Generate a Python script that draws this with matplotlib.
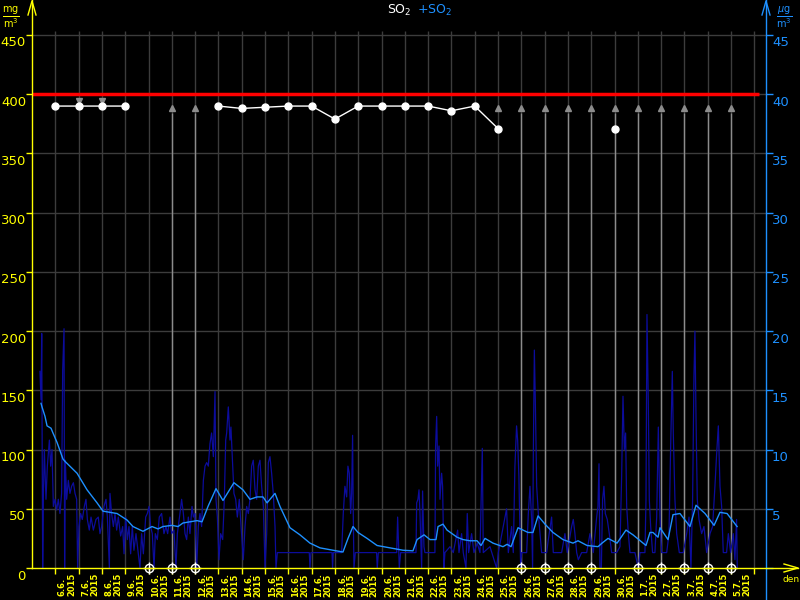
import numpy as np
import matplotlib
matplotlib.use('Agg')
import matplotlib.pyplot as plt
from matplotlib.lines import Line2D
from matplotlib.transforms import offset_copy

YEL = '#ffff00'
BLUE = '#1e90ff'
NAVY = '#0c0c9c'
GRID = '#3c3c3c'
LIGHT = '#8c8c8c'

# date labels, one per day (centred in the day)
day_labels = ['6.6.', '7.6.', '8.6.', '9.6.', '10.6.', '11.6.', '12.6.', '13.6.',
              '14.6.', '15.6.', '16.6.', '17.6.', '18.6.', '19.6.', '20.6.', '21.6.',
              '22.6.', '23.6.', '24.6.', '25.6.', '26.6.', '27.6.', '28.6.', '29.6.',
              '30.6.', '1.7.', '2.7.', '3.7.', '4.7.', '5.7.']
year = '2015'

# daily values (left axis, mg/m3), index = day boundary 1..30
daily_day = list(range(1, 31))
daily_val = [390, 390, 390, 390, np.nan, np.nan, np.nan, 390, 388, 389,
             390, 390, 379, 390, 390, 390, 390, 386, 390, 371,
             np.nan, np.nan, np.nan, np.nan, 371, np.nan, np.nan, np.nan, np.nan, np.nan]
limit = 400
missing_days = [5, 6, 7, 21, 22, 23, 24, 26, 27, 28, 29, 30]
flag_days = [6, 7, 20, 21, 22, 23, 24, 25, 26, 27, 28, 29, 30]
flag_lines = [6, 7, 21, 22, 23, 24, 25, 26, 27, 28, 29, 30]

# raw series (right axis, ug/m3), time in hours from start
raw_h = [8.2, 9.3, 10.0, 11.0, 11.7, 12.7, 14.4, 15.8, 17.9, 19.2, 20.6, 22.0, 23.7, 25.4,
         27.1, 28.8, 30.5, 31.6, 33.0, 33.6, 34.3, 35.7, 37.4, 39.1, 40.8, 42.6, 44.3, 46.0,
         47.0, 48.4, 50.1, 51.8, 53.9, 55.6, 57.0, 59.0, 60.8, 63.2, 65.9, 68.3, 70.0, 71.7,
         74.1, 76.2, 77.6, 79.7, 80.3, 82.0, 83.8, 85.5, 87.2, 88.9, 91.3, 93.4, 94.8, 96.5,
         98.2, 99.9, 101.6, 103.3, 105.0, 107.1, 109.5, 111.2, 112.9, 114.7, 117.1, 118.8,
         120.5, 122.2, 123.9, 125.7, 127.0, 129.1, 131.1, 133.5, 135.9, 138.0, 139.7, 142.1,
         143.8, 146.2, 148.3, 149.7, 152.4, 154.1, 155.9, 157.6, 159.3, 161.0, 162.7, 164.8,
         166.2, 167.9, 169.6, 171.3, 173.0, 174.7, 176.5, 178.2, 179.9, 181.6, 183.3, 185.0,
         186.8, 188.5, 189.5, 190.9, 192.6, 194.3, 196.4, 198.1, 199.5, 200.5, 202.2, 203.9,
         204.9, 206.7, 208.0, 209.8, 211.5, 213.5, 215.3, 217.6, 219.4, 221.1, 222.8, 224.5,
         226.2, 227.9, 229.7, 231.4, 233.1, 234.8, 236.5, 238.3, 240.0, 241.7, 243.4, 245.1,
         246.8, 248.5, 250.3, 251.3, 252.7, 285.6, 286.3, 287.3, 309.0, 309.6, 310.3, 318.9,
         320.6, 322.3, 324.1, 325.4, 326.8, 328.2, 329.2, 330.2, 330.9, 331.6, 333.0, 354.9,
         355.6, 356.7, 375.6, 376.6, 378.3, 379.7, 395.5, 396.2, 397.5, 398.6, 399.6, 401.3,
         402.3, 403.7, 404.7, 415.0, 415.7, 416.8, 417.8, 419.2, 420.2, 421.9, 422.9, 424.3,
         425.3, 430.5, 433.9, 438.4, 439.8, 442.5, 444.2, 447.0, 448.3, 449.7, 452.8, 455.2,
         458.6, 461.4, 463.8, 464.8, 471.7, 478.5, 480.3, 488.8, 490.6, 494.0, 495.7, 497.4,
         499.1, 500.2, 501.5, 503.3, 504.3, 509.5, 511.2, 512.9, 514.6, 515.6, 516.3, 517.4,
         518.4, 519.8, 521.5, 523.2, 524.9, 530.1, 531.8, 535.2, 536.9, 545.5, 548.9, 551.3,
         555.8, 557.5, 559.2, 561.0, 562.7, 566.1, 571.3, 574.7, 578.1, 581.6, 582.9, 584.0,
         585.0, 586.4, 587.7, 589.1, 590.5, 592.5, 594.6, 597.0, 602.2, 605.6, 607.3, 608.7,
         610.1, 611.4, 612.5, 614.2, 615.9, 621.0, 624.5, 626.2, 631.3, 632.4, 633.4, 634.8,
         635.8, 637.2, 639.2, 641.6, 643.4, 645.1, 646.8, 648.5, 653.7, 656.1, 657.8, 659.5,
         660.5, 662.2, 664.0, 666.7, 670.8, 674.3, 676.7, 678.7, 680.4, 681.8, 682.8, 683.9,
         685.2, 687.0, 689.7, 692.1, 694.9, 698.3, 701.0, 703.4, 705.2, 706.9, 708.6, 710.3,
         712.0, 715.4, 717.2, 719.6, 722.3, 724.0, 725.7, 726.4]
raw_v = [16.6, 14.2, 19.8, 0, 6.0, 10.0, 5.8, 8.6, 10.8, 8.6, 10.0, 5.2, 5.8, 4.9,
         5.8, 4.6, 6.3, 16.7, 20.2, 0, 9.1, 5.8, 7.4, 6.3, 6.9, 7.2, 6.3, 5.8,
         0, 3.5, 4.6, 4.1, 5.2, 5.8, 4.1, 3.2, 4.3, 3.2, 4.1, 4.3, 2.9, 3.5,
         5.2, 5.8, 4.3, 0, 6.3, 4.6, 3.5, 4.6, 3.2, 4.3, 2.7, 3.5, 1.2, 4.3,
         2.4, 3.5, 1.2, 3.5, 1.5, 2.9, 1.2, 0, 2.9, 1.2, 4.3, 4.6,
         5.2, 3.5, 2.9, 0, 2.9, 2.4, 4.3, 4.6, 2.9, 3.5, 2.9, 4.3,
         2.9, 3.2, 0, 2.9, 4.6, 5.8, 4.6, 2.9, 2.4, 4.3, 2.9, 5.2,
         4.3, 4.6, 0, 3.5, 4.6, 3.5, 7.4, 8.6, 8.9, 8.6, 10.5, 11.4,
         9.4, 14.9, 5.8, 4.3, 0.7, 2.9, 2.4, 5.8, 10.8, 11.4, 13.6, 10.8,
         11.9, 8.6, 6.3, 5.8, 4.3, 5.8, 3.5, 0.7, 3.5, 5.2, 4.6, 5.8,
         8.6, 9.1, 6.6, 5.8, 8.6, 9.1, 6.9, 5.2, 0, 2.9, 8.9, 9.4,
         8.0, 6.3, 3.5, 0, 1.3, 1.3, 0, 1.3, 1.3, 0, 1.3, 1.3,
         4.6, 6.9, 6.0, 8.6, 8.0, 4.6, 6.3, 11.2, 4.6, 0, 1.3, 1.3,
         0, 1.3, 1.3, 4.3, 0, 1.3, 1.3, 5.5, 5.8, 6.6, 4.6, 0,
         6.5, 1.8, 1.3, 1.3, 10.3, 12.8, 8.6, 10.3, 5.8, 8.0, 6.9, 0,
         1.3, 1.8, 1.3, 3.2, 1.3, 2.9, 1.3, 0, 4.6, 1.3, 2.9, 1.3,
         2.1, 1.3, 10.1, 1.3, 1.8, 0, 1.3, 5.0, 1.3, 3.5, 1.3, 8.6,
         12.0, 10.8, 7.7, 0, 1.3, 1.3, 4.6, 6.9, 4.1, 0, 9.1, 18.4,
         14.2, 6.9, 4.6, 2.9, 1.3, 1.3, 2.4, 4.3, 1.3, 1.3, 2.9, 1.3,
         3.5, 4.1, 2.9, 1.3, 0.7, 1.3, 1.3, 2.9, 1.3, 4.3, 5.2, 8.8,
         0, 0, 5.8, 6.9, 4.6, 4.1, 2.9, 1.3, 1.3, 1.8, 7.7, 14.5,
         10.0, 11.4, 5.2, 2.9, 1.3, 1.3, 0, 1.3, 1.3, 5.8, 21.4, 13.9,
         5.8, 3.5, 1.3, 1.3, 4.3, 11.9, 4.3, 1.3, 1.3, 2.9, 10.3, 16.6,
         11.4, 5.8, 2.9, 1.3, 1.3, 2.9, 4.3, 0, 5.8, 16.2, 20.0, 12.8,
         5.8, 4.1, 2.9, 3.5, 1.3, 2.9, 3.5, 6.9, 9.7, 12.0, 6.9, 5.2,
         1.3, 1.3, 2.9, 1.3, 2.9, 0.7, 4.1, 0]

# smoothed series (right axis, ug/m3)
avg_h = [9.3, 10.3, 13.4, 15.5, 19.6, 21.6, 25.8, 31.9, 34.0, 46.4, 56.7, 67.0, 73.1, 80.3,
         87.6, 97.9, 104.0, 114.3, 123.6, 129.8, 134.9, 144.2, 150.4, 155.5, 170.0, 175.1,
         181.3, 189.5, 196.7, 208.0, 217.3, 224.5, 231.8, 237.9, 242.1, 250.3, 255.4, 265.7,
         276.0, 286.3, 296.6, 310.0, 320.3, 325.5, 330.6, 335.8, 345.1, 355.4, 368.7, 382.1,
         392.4, 396.6, 403.8, 409.9, 416.1, 418.2, 423.3, 427.5, 437.8, 443.9, 451.1, 458.4,
         462.5, 466.6, 474.8, 485.1, 489.3, 493.4, 500.6, 510.9, 516.0, 521.2, 528.4, 536.6,
         546.9, 557.2, 562.4, 571.7, 583.0, 587.1, 593.3, 602.6, 611.8, 619.0, 632.4, 636.5,
         639.6, 644.8, 646.8, 655.1, 660.2, 667.4, 677.7, 683.9, 693.2, 702.5, 708.6, 715.9,
         726.2]
avg_v = [13.9, 13.6, 12.8, 12.0, 11.8, 11.4, 10.6, 9.2, 9.0, 8.0, 6.6, 5.5, 4.8, 4.7,
         4.6, 4.05, 3.5, 3.1, 3.5, 3.3, 3.5, 3.6, 3.5, 3.8, 4.0, 3.9,
         5.2, 6.7, 5.7, 7.2, 6.6, 5.8, 6.0, 6.0, 5.5, 6.3, 5.2, 3.4,
         2.8, 2.1, 1.7, 1.5, 1.35, 2.5, 3.5, 3.0, 2.5, 1.9, 1.7, 1.5,
         1.45, 2.4, 2.8, 2.4, 2.4, 3.5, 3.7, 3.2, 2.6, 2.4, 2.3, 2.3,
         1.9, 2.5, 2.1, 1.8, 2.0, 1.8, 3.4, 3.0, 3.0, 4.4, 3.7, 3.0,
         2.4, 2.1, 2.3, 1.9, 1.8, 2.1, 2.5, 2.1, 3.2, 2.8, 1.9, 3.0,
         3.0, 2.6, 3.4, 2.4, 4.5, 4.6, 3.5, 5.3, 4.6, 3.6, 4.7, 4.6,
         3.5]

fig = plt.figure(figsize=(8, 6), dpi=100, facecolor='black')
ax = fig.add_axes([32 / 800, 32 / 600, 734 / 800, 568 / 600])
ax.set_facecolor('black')
ax.set_xlim(0, 31.5)
ax.set_ylim(0, 450 * 568 / 533)
ax2 = ax.twinx()
ax2.set_ylim(0, 45 * 568 / 533)
for a in (ax, ax2):
    for s in a.spines.values():
        s.set_visible(False)

# grid
ax.hlines(range(50, 451, 50), 0, 31.5, color=GRID, lw=1, zorder=1)
ax.vlines(range(1, 32), 0, 453, color=GRID, lw=1, zorder=1)
ax.vlines(flag_lines, 0, 384, color=LIGHT, lw=1, zorder=2)
ax.plot(flag_days, [388] * len(flag_days), '^', color=LIGHT, ms=4, zorder=2)
ax.plot([2, 3], [394, 394], 'v', color=LIGHT, ms=4, zorder=2)

# limit and daily values
ax.hlines(limit, 0, 31.2, color='#ff0000', lw=2.5, zorder=3)
ax.plot(daily_day, daily_val, color='white', lw=1, marker='o', ms=5, zorder=4)

# raw and smoothed series
ax2.plot(np.array(raw_h) / 24, raw_v, color=NAVY, lw=0.9, zorder=2)
ax2.plot(np.array(avg_h) / 24, avg_v, color=BLUE, lw=1, zorder=3)
ax2.plot(missing_days, [0] * len(missing_days), 'o', mfc='none', mec='white',
         ms=6, mew=1, clip_on=False, zorder=5)
ax2.plot(missing_days, [0] * len(missing_days), '+', color='white',
         ms=9, mew=1, clip_on=False, zorder=5)

# ticks
ax.set_xticks(range(1, 32))
ax.tick_params(axis='x', color=YEL, length=4, width=1, labelbottom=False)
ax.set_yticks(range(0, 451, 50))
ax.tick_params(axis='y', color=YEL, length=4, width=1, labelleft=False)
ax2.set_yticks(range(0, 46, 5))
ax2.tick_params(axis='y', color=BLUE, length=5, width=1, labelright=False)

tl = offset_copy(ax.transData, fig, x=-6, y=-8, units='dots')
for v in range(0, 451, 50):
    ax.text(0, v, str(v), transform=tl, ha='right', va='center', color=YEL, fontsize=9.5)
tr = offset_copy(ax2.transData, fig, x=6, y=-8, units='dots')
for v in range(5, 46, 5):
    ax2.text(31.5, v, str(v), transform=tr, ha='left', va='center', color=BLUE, fontsize=9.5)

tx = offset_copy(ax.transData, fig, y=-5, units='dots')
for i, lab in enumerate(day_labels):
    ax.text(i + 1.5, 0, lab + '\n' + year, transform=tx, rotation=90, ha='center',
            va='top', multialignment='left', linespacing=1.0, fontsize=6,
            fontweight='bold', color=YEL)

# axis lines with arrows
W, H = 800, 600
fig.add_artist(Line2D([32 / W] * 2, [32 / H, 1], color=YEL, lw=1))
fig.add_artist(Line2D([28 / W, 32 / W, 36 / W], [1 - 15 / H, 1 - 1 / H, 1 - 15 / H], color=YEL, lw=1))
fig.add_artist(Line2D([766 / W] * 2, [0, 1], color=BLUE, lw=1))
fig.add_artist(Line2D([762 / W, 766 / W, 770 / W], [1 - 15 / H, 1 - 1 / H, 1 - 15 / H], color=BLUE, lw=1))
fig.add_artist(Line2D([32 / W, 798 / W], [32 / H] * 2, color=YEL, lw=1))
fig.add_artist(Line2D([784 / W, 798 / W, 784 / W], [36 / H, 32 / H, 28 / H], color=YEL, lw=1))

fig.text(791 / W, 1 - 580 / H, 'den', color=YEL, fontsize=6.5, ha='center', va='center')
fig.text(11 / W, 1 - 17 / H, r'$\frac{\mathrm{mg}}{\mathrm{m}^3}$', color=YEL, fontsize=10,
         ha='center', va='center')
fig.text(784 / W, 1 - 17 / H, r'$\frac{\mu\mathrm{g}}{\mathrm{m}^3}$', color=BLUE, fontsize=10,
         ha='center', va='center')
fig.text(399 / W, 1 - 10 / H, r'SO$_2$', color='white', fontsize=9, ha='center', va='center')
fig.text(434 / W, 1 - 10 / H, r'+SO$_2$', color=BLUE, fontsize=9, ha='center', va='center')

fig.savefig('out.png', dpi=100, facecolor='black')
